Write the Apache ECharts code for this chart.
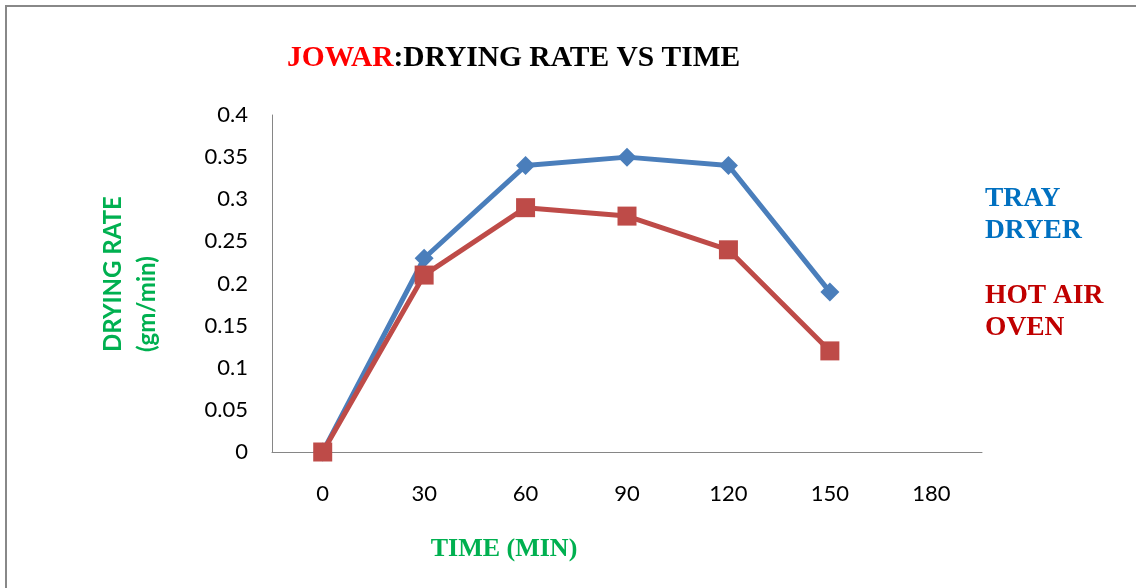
<!DOCTYPE html>
<html>
<head>
<meta charset="utf-8">
<script src="https://cdn.jsdelivr.net/npm/echarts@6/dist/echarts.min.js"></script>
<style>html,body{margin:0;padding:0;background:#fff;}#chart{width:1136px;height:588px;}</style>
</head>
<body>
<div id="chart"></div>
<script>
const categories = ['0', '30', '60', '90', '120', '150', '180'];
const trayDryer = [0, 0.23, 0.34, 0.35, 0.34, 0.19];
const hotAirOven = [0, 0.21, 0.29, 0.28, 0.24, 0.12];
const seriesNames = ['TRAY DRYER', 'HOT AIR OVEN'];

const chart = echarts.init(document.getElementById('chart'));
const serif = '"Liberation Serif", "Times New Roman", serif';
const sans = 'Lato, "Open Sans", sans-serif';
chart.setOption({
  animation: false,
  backgroundColor: '#fff',
  title: {
    text: '{a|JOWAR}{b|:DRYING RATE VS TIME}',
    left: 282, top: 38,
    textStyle: {
      rich: {
        a: {color: '#ff0000', fontFamily: serif, fontWeight: 'bold', fontSize: 29.5},
        b: {color: '#000000', fontFamily: serif, fontWeight: 'bold', fontSize: 29.5}
      }
    }
  },
  grid: {left: 272, right: 154, top: 115, bottom: 136, containLabel: false},
  xAxis: {
    type: 'category',
    data: categories,
    boundaryGap: true,
    axisLine: {lineStyle: {color: '#868686', width: 1}},
    axisTick: {show: false},
    axisLabel: {color: '#000', fontFamily: sans, fontSize: 22, margin: 31},
    splitLine: {show: false}
  },
  yAxis: {
    type: 'value',
    min: 0, max: 0.4, interval: 0.05,
    axisLine: {show: true, lineStyle: {color: '#868686', width: 1}},
    axisTick: {show: false},
    axisLabel: {color: '#000', fontFamily: sans, fontSize: 22, margin: 24},
    splitLine: {show: false}
  },
  series: [
    {
      name: seriesNames[0], type: 'line', data: trayDryer,
      symbol: 'diamond', symbolSize: 19,
      lineStyle: {color: '#4a7ebb', width: 5},
      itemStyle: {color: '#4a7ebb'}
    },
    {
      name: seriesNames[1], type: 'line', data: hotAirOven,
      symbol: 'rect', symbolSize: 19,
      lineStyle: {color: '#be4b48', width: 5},
      itemStyle: {color: '#be4b48'}
    }
  ],
  graphic: [
    {type: 'rect', silent: true, shape: {x: 6, y: 6, width: 1300, height: 800},
     style: {fill: 'none', stroke: '#888888', lineWidth: 2}},
    {type: 'text', x: 985, y: 199, style: {text: 'TRAY', fill: '#0070c0', font: 'bold 27.5px ' + serif, textAlign: 'left', textVerticalAlign: 'middle'}},
    {type: 'text', x: 985, y: 231, style: {text: 'DRYER', fill: '#0070c0', font: 'bold 27.5px ' + serif, textAlign: 'left', textVerticalAlign: 'middle'}},
    {type: 'text', x: 985, y: 296, style: {text: 'HOT AIR', fill: '#c00000', font: 'bold 27.5px ' + serif, textAlign: 'left', textVerticalAlign: 'middle'}},
    {type: 'text', x: 985, y: 328, style: {text: 'OVEN', fill: '#c00000', font: 'bold 27.5px ' + serif, textAlign: 'left', textVerticalAlign: 'middle'}},
    {type: 'text', x: 113, y: 352, rotation: Math.PI / 2, style: {text: 'DRYING RATE', fill: '#00b050', font: 'bold 24px ' + sans, textAlign: 'left', textVerticalAlign: 'middle'}},
    {type: 'text', x: 147, y: 352, rotation: Math.PI / 2, style: {text: '(gm/min)', fill: '#00b050', font: 'bold 24px ' + sans, textAlign: 'left', textVerticalAlign: 'middle'}},
    {type: 'text', x: 504, y: 549, style: {text: 'TIME (MIN)', fill: '#00b050', font: 'bold 26px ' + serif, textAlign: 'center', textVerticalAlign: 'middle'}}
  ]
});
</script>
</body>
</html>
